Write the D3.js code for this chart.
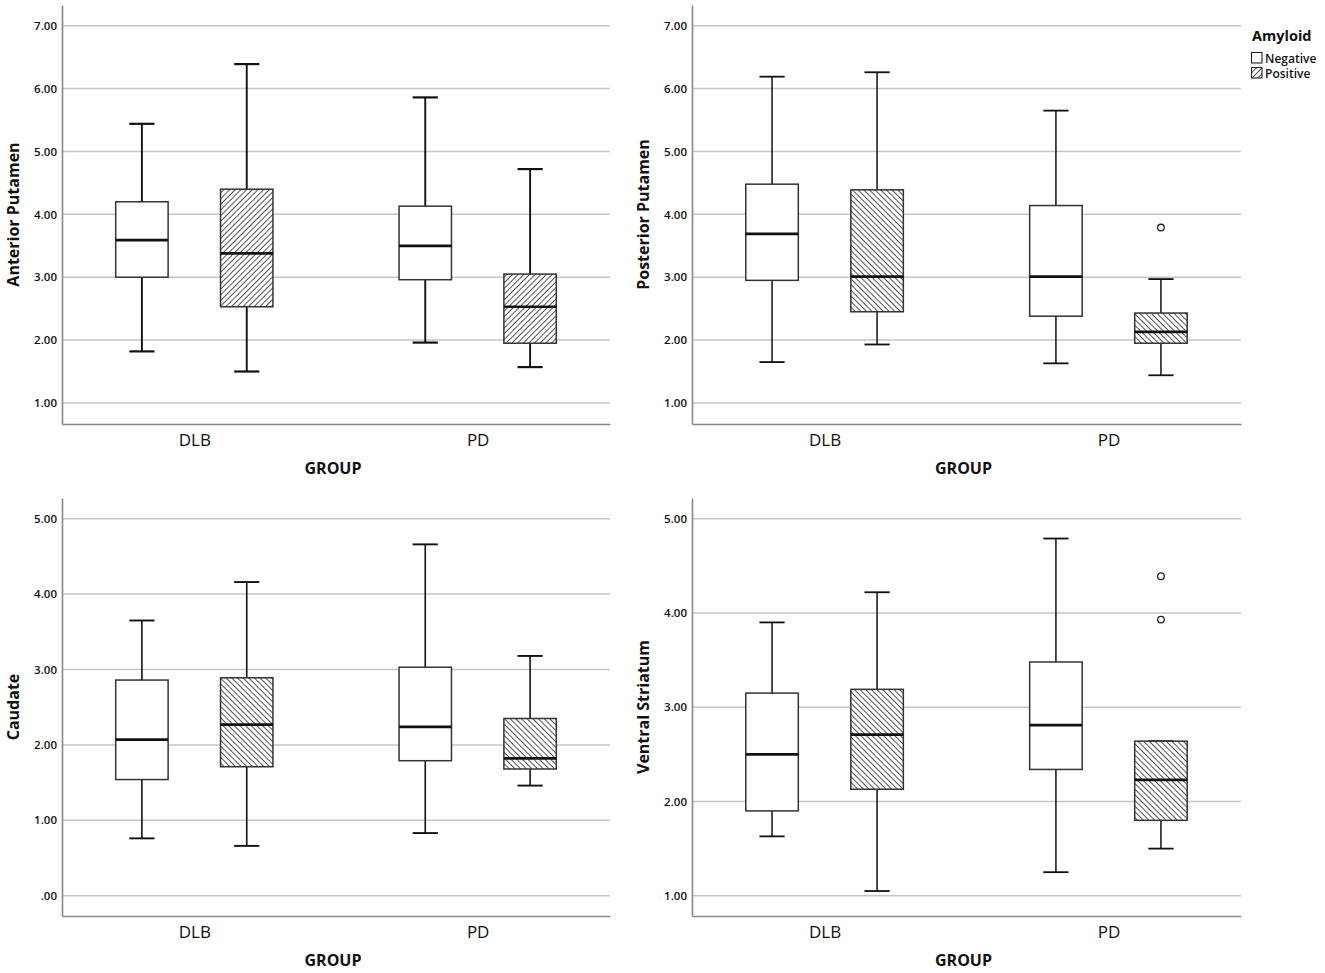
<!DOCTYPE html>
<html>
<head>
<meta charset="utf-8">
<script src="https://d3js.org/d3.v7.min.js"></script>
<style>
  html, body { margin: 0; padding: 0; background: #fff; }
  text { font-family: "Open Sans", "DejaVu Sans", sans-serif; fill: #111; }
</style>
</head>
<body>
<div id="container"></div>
<script>
// categories
const groups = ["DLB", "PD"];
const amyloid = ["Negative", "Positive"];

// box stats per box: [min, q1, median, q3, max]
// order: DLB-Negative, DLB-Positive, PD-Negative, PD-Positive
const anteriorPutamen = [
  [1.82, 3.00, 3.59, 4.20, 5.44],
  [1.50, 2.53, 3.38, 4.40, 6.39],
  [1.96, 2.96, 3.50, 4.13, 5.86],
  [1.57, 1.95, 2.53, 3.05, 4.72]
];
const posteriorPutamen = [
  [1.65, 2.95, 3.69, 4.48, 6.19],
  [1.93, 2.45, 3.01, 4.39, 6.26],
  [1.63, 2.38, 3.01, 4.14, 5.65],
  [1.44, 1.95, 2.13, 2.43, 2.97]
];
const caudate = [
  [0.76, 1.54, 2.07, 2.86, 3.65],
  [0.66, 1.71, 2.27, 2.89, 4.16],
  [0.83, 1.79, 2.24, 3.03, 4.66],
  [1.46, 1.68, 1.82, 2.35, 3.18]
];
const ventralStriatum = [
  [1.63, 1.90, 2.50, 3.15, 3.90],
  [1.05, 2.13, 2.71, 3.19, 4.22],
  [1.25, 2.34, 2.81, 3.48, 4.79],
  [1.50, 1.80, 2.23, 2.64, 2.64]
];

// outliers per box (same order)
const anteriorOutliers = [[], [], [], []];
const posteriorOutliers = [[], [], [], [3.79]];
const caudateOutliers = [[], [], [], []];
const ventralOutliers = [[], [], [], [4.39, 3.93]];

// y ticks
const ticksPutamen = [1, 2, 3, 4, 5, 6, 7];
const ticksCaudate = [0, 1, 2, 3, 4, 5];
const ticksVentral = [1, 2, 3, 4, 5];

const width = 1325, height = 973;

const svg = d3.select('#container')
  .append('svg')
  .attr('width', width)
  .attr('height', height);

// hatch patterns
const defs = svg.append('defs');
function hatch(id, dir) {
  const p = defs.append('pattern')
    .attr('id', id)
    .attr('patternUnits', 'userSpaceOnUse')
    .attr('width', 4).attr('height', 4)
    .attr('patternTransform', `rotate(${dir})`);
  p.append('rect').attr('width', 4).attr('height', 4).attr('fill', '#fff');
  p.append('line')
    .attr('x1', 0).attr('y1', 0).attr('x2', 0).attr('y2', 4)
    .attr('stroke', '#1a1a1a').attr('stroke-width', 1.5);
}
hatch('hatchFwd', 45);   // "////"
hatch('hatchBack', -45); // "\\\\"

const fmt = d => d3.format('.2f')(d).replace(/^0\./, '.');

const panels = [
  { title: 'Anterior Putamen', stats: anteriorPutamen, outliers: anteriorOutliers,
    ticks: ticksPutamen, domain: [0.665, 7.33], x0: 62, x1: 610, y0: 5, y1: 424,
    fill: 'hatchFwd', lw: 1.9 },
  { title: 'Posterior Putamen', stats: posteriorPutamen, outliers: posteriorOutliers,
    ticks: ticksPutamen, domain: [0.665, 7.33], x0: 692, x1: 1241, y0: 5, y1: 424,
    fill: 'hatchBack', lw: 1.5 },
  { title: 'Caudate', stats: caudate, outliers: caudateOutliers,
    ticks: ticksCaudate, domain: [-0.27, 5.275], x0: 62, x1: 610, y0: 498, y1: 916,
    fill: 'hatchBack', lw: 1.6 },
  { title: 'Ventral Striatum', stats: ventralStriatum, outliers: ventralOutliers,
    ticks: ticksVentral, domain: [0.785, 5.22], x0: 692, x1: 1241, y0: 498, y1: 916,
    fill: 'hatchBack', lw: 1.5 }
];

panels.forEach(p => {
  const g = svg.append('g');

  const y = d3.scaleLinear().domain(p.domain).range([p.y1, p.y0]);
  const x = d3.scalePoint().domain(groups).range([p.x0, p.x1]).padding(0.467);
  const step = x.step();
  const xs = d3.scaleBand().domain(amyloid).range([-0.37 * step, 0.37 * step]);
  const bw = xs.bandwidth();

  // gridlines
  g.append('g')
    .selectAll('line')
    .data(p.ticks)
    .join('line')
      .attr('x1', p.x0).attr('x2', p.x1)
      .attr('y1', d => y(d)).attr('y2', d => y(d))
      .attr('stroke', '#c6c6c6').attr('stroke-width', 1.5);

  // y axis
  const yAxis = d3.axisLeft(y).tickValues(p.ticks).tickFormat(fmt).tickSize(0).tickPadding(5);
  const ya = g.append('g').attr('transform', `translate(${p.x0},0)`).call(yAxis);
  ya.select('.domain').attr('stroke', '#888').attr('stroke-width', 1.6);
  ya.selectAll('text')
    .attr('font-size', 11.5).attr('font-weight', 600)
    .style('font-family', '"Open Sans", sans-serif').attr('fill', '#1a1a1a');

  // x axis
  const xAxis = d3.axisBottom(x).tickSize(0).tickPadding(10);
  const xa = g.append('g').attr('transform', `translate(0,${p.y1})`).call(xAxis);
  xa.select('.domain').attr('stroke', '#888').attr('stroke-width', 1.6);
  xa.selectAll('text')
    .attr('font-size', 17)
    .style('font-family', '"Open Sans", sans-serif').attr('fill', '#111');

  // axis titles
  g.append('text')
    .attr('transform', `translate(${p.x0 - 43},${(p.y0 + p.y1) / 2}) rotate(-90)`)
    .attr('text-anchor', 'middle')
    .attr('font-size', 16).attr('font-weight', 700)
    .text(p.title);

  g.append('text')
    .attr('x', (p.x0 + p.x1) / 2 - 3)
    .attr('y', p.y1 + 50)
    .attr('text-anchor', 'middle')
    .attr('font-size', 16).attr('font-weight', 700)
    .text('GROUP');

  // boxes
  const boxes = [];
  groups.forEach((gr, gi) => {
    amyloid.forEach((am, ai) => {
      const i = gi * amyloid.length + ai;
      const s = p.stats[i];
      boxes.push({ cx: x(gr) + xs(am) + bw / 2, am, min: s[0], q1: s[1], med: s[2], q3: s[3], max: s[4], out: p.outliers[i] });
    });
  });

  const bg = g.selectAll('g.box').data(boxes).join('g').attr('class', 'box');
  const boxW = bw * 0.5, capW = bw * 0.24;

  // whiskers
  bg.append('line')
    .attr('x1', d => d.cx).attr('x2', d => d.cx)
    .attr('y1', d => y(d.max)).attr('y2', d => y(d.q3))
    .attr('stroke', '#111').attr('stroke-width', p.lw);
  bg.append('line')
    .attr('x1', d => d.cx).attr('x2', d => d.cx)
    .attr('y1', d => y(d.q1)).attr('y2', d => y(d.min))
    .attr('stroke', '#111').attr('stroke-width', p.lw);
  bg.append('line')
    .attr('x1', d => d.cx - capW / 2).attr('x2', d => d.cx + capW / 2)
    .attr('y1', d => y(d.max)).attr('y2', d => y(d.max))
    .attr('stroke', '#111').attr('stroke-width', p.lw + 0.3);
  bg.append('line')
    .attr('x1', d => d.cx - capW / 2).attr('x2', d => d.cx + capW / 2)
    .attr('y1', d => y(d.min)).attr('y2', d => y(d.min))
    .attr('stroke', '#111').attr('stroke-width', p.lw + 0.3);

  // box
  bg.append('rect')
    .attr('x', d => d.cx - boxW / 2)
    .attr('width', boxW)
    .attr('y', d => y(d.q3))
    .attr('height', d => y(d.q1) - y(d.q3))
    .attr('fill', d => d.am === 'Positive' ? `url(#${p.fill})` : '#fff')
    .attr('stroke', '#333').attr('stroke-width', 1.5);

  // median
  bg.append('line')
    .attr('x1', d => d.cx - boxW / 2).attr('x2', d => d.cx + boxW / 2)
    .attr('y1', d => y(d.med)).attr('y2', d => y(d.med))
    .attr('stroke', '#111').attr('stroke-width', 2.7);

  // outliers
  bg.selectAll('circle')
    .data(d => d.out.map(v => ({ cx: d.cx, v })))
    .join('circle')
      .attr('cx', d => d.cx).attr('cy', d => y(d.v)).attr('r', 3.3)
      .attr('fill', '#fff').attr('stroke', '#222').attr('stroke-width', 1.3);
});

// legend
const lg = svg.append('g');
lg.append('text')
  .attr('x', 1252).attr('y', 41)
  .attr('font-size', 14.5).attr('font-weight', 700)
  .text('Amyloid');
amyloid.forEach((am, i) => {
  lg.append('rect')
    .attr('x', 1251.5).attr('y', 52.5 + i * 15)
    .attr('width', 10.5).attr('height', 10.5)
    .attr('fill', am === 'Positive' ? 'url(#hatchFwd)' : '#fff')
    .attr('stroke', '#222').attr('stroke-width', 1.1);
  lg.append('text')
    .attr('x', 1265).attr('y', 62.5 + i * 15)
    .attr('font-size', 12).attr('font-weight', 600)
    .text(am);
});
</script>
</body>
</html>
